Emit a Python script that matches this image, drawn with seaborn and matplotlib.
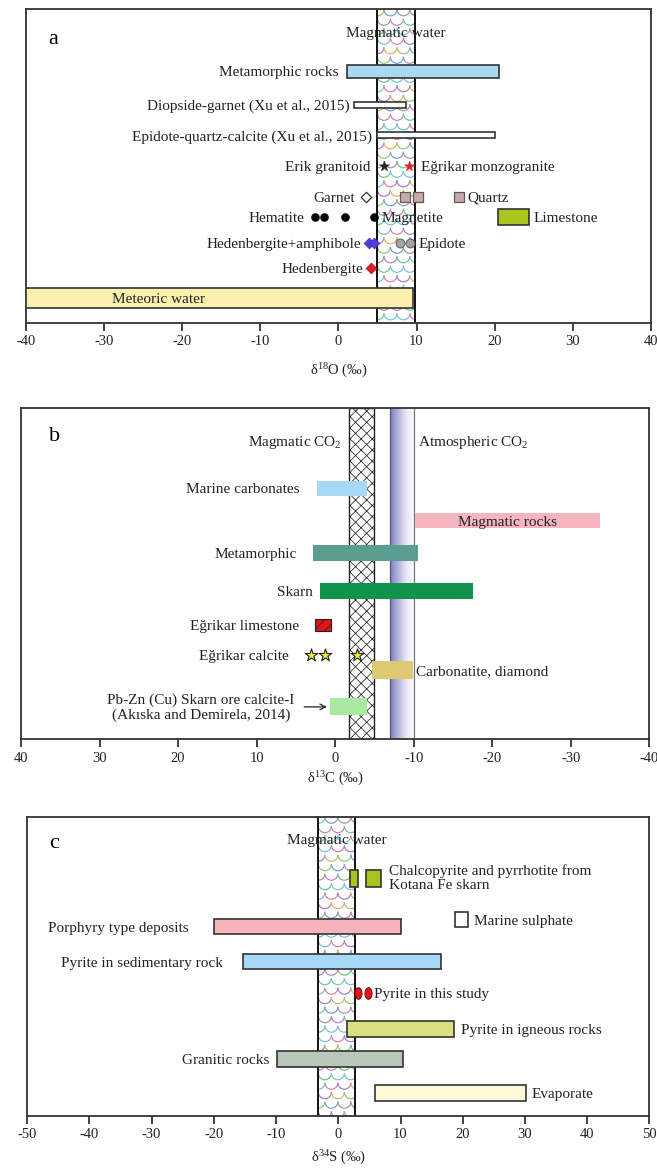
import numpy as np
import matplotlib
matplotlib.use("Agg")
import matplotlib.pyplot as plt
import seaborn as sns
from matplotlib.patches import Rectangle, Arc
from matplotlib.path import Path
from matplotlib.colors import LinearSegmentedColormap

# ======================= DATA =======================
# ---- panel a : delta 18O (permil) ----
a_ticks = [-40, -30, -20, -10, 0, 10, 20, 30, 40]
a_magmatic_band = [5.0, 9.8]
a_bar_names = ["Metamorphic rocks", "Diopside-garnet (Xu et al., 2015)",
               "Epidote-quartz-calcite (Xu et al., 2015)", "Limestone", "Meteoric water"]
a_bar_start = [1.1, 2.0, 4.9, 20.4, -40.0]
a_bar_end = [20.5, 8.6, 20.1, 24.4, 9.5]
a_erik_granitoid = [5.8]
a_egrikar_monzogranite = [9.1]
a_garnet = [3.5]
a_quartz = [8.5, 10.2, 15.4]
a_hematite = [-3.0, -1.8, 0.9]
a_magnetite = [4.6]
a_hedenbergite_amphibole = [3.9, 4.6]
a_epidote = [7.9, 9.2]
a_hedenbergite = [4.2]

# ---- panel b : delta 13C (permil) ----
b_ticks = [40, 30, 20, 10, 0, -10, -20, -30, -40]
b_tick_labels = ["40", "30", "20", "10", "0", "-10", "-20", "-30", "-40"]
b_magmatic_co2 = [-1.8, -4.9]
b_atmospheric_co2 = [-7.0, -10.0]
b_bar_names = ["Marine carbonates", "Magmatic rocks", "Metamorphic", "Skarn",
               "Carbonatite, diamond", "Pb-Zn (Cu) Skarn ore calcite-I"]
b_bar_start = [2.3, -10.1, 2.8, 1.9, -4.7, 0.7]
b_bar_end = [-4.1, -33.7, -10.6, -17.6, -9.9, -4.1]
b_egrikar_limestone = [2.6, 0.5]
b_egrikar_calcite = [3.1, 1.3, -2.8]

# ---- panel c : delta 34S (permil) ----
c_ticks = [-50, -40, -30, -20, -10, 0, 10, 20, 30, 40, 50]
c_magmatic_band = [-3.2, 2.7]
c_bar_names = ["Chalcopyrite-1", "Chalcopyrite-2", "Marine sulphate", "Porphyry type deposits",
               "Pyrite in sedimentary rock", "Pyrite in igneous rocks", "Granitic rocks", "Evaporate"]
c_bar_start = [1.9, 4.4, 18.7, -19.9, -15.3, 1.4, -9.9, 5.9]
c_bar_end = [3.2, 6.9, 20.8, 10.1, 16.5, 18.6, 10.4, 30.1]
c_pyrite_this_study = [3.2, 4.7]

# ======================= STYLE / LAYOUT =======================
sns.set_style("white")
plt.rcParams["font.family"] = ["Liberation Serif", "DejaVu Serif"]
plt.rcParams["mathtext.fontset"] = "custom"
plt.rcParams["mathtext.rm"] = "Liberation Serif"
plt.rcParams["mathtext.it"] = "Liberation Serif:italic"
plt.rcParams["hatch.linewidth"] = 0.55

FS = 11
TICKFS = 10.5
TXT = "#222222"
SPINE = "#333333"
W, H = 657, 1172
fig = plt.figure(figsize=(W / 100, H / 100), dpi=100)

# axes rectangles in pixels (left, top, right, bottom)
rect_a = (25.7, 9.3, 651.0, 322.7)
rect_b = (21.0, 408.3, 649.4, 739.0)
rect_c = (27.2, 816.7, 649.4, 1116.0)


def make_ax(r):
    l, t, rr, b = r
    return fig.add_axes([l / W, 1 - b / H, (rr - l) / W, (b - t) / H])


def style_ax(ax, ticks, labels, xlabel, lpad):
    for s in ax.spines.values():
        s.set_visible(True)
        s.set_color(SPINE)
        s.set_linewidth(1.3)
    ax.set_xticks(ticks)
    ax.set_xticklabels(labels)
    ax.set_yticks([])
    ax.tick_params(axis="x", direction="out", length=6, width=1.3, color=SPINE,
                   labelsize=TICKFS, labelcolor=TXT, pad=3, bottom=True)
    ax.set_xlabel(xlabel, fontsize=10.5, color=TXT, labelpad=lpad)


def scale_pattern(ax, x0, x1, ytop, ybot, rect_px, xr, yr, cell=13.0, row=9.5):
    """fish-scale decorative fill inside a band"""
    l, t, rr, b = rect_px
    dxpp = abs(xr[1] - xr[0]) / (rr - l)
    dypp = abs(yr[1] - yr[0]) / (b - t)
    clip = Rectangle((min(x0, x1), ytop), abs(x1 - x0), ybot - ytop,
                     facecolor="white", edgecolor="none", zorder=1)
    ax.add_patch(clip)
    cols = ["#e07aa0", "#6cc27e", "#6f9be0", "#9d7ad0", "#6cc8c8", "#9a9a9a",
            "#e0b060", "#7ab8e0", "#c07ad0", "#8cc870"]
    w = cell * dxpp
    h = cell * dypp
    ny = int((ybot - ytop) / (row * dypp)) + 3
    k = 0
    for j in range(-1, ny):
        cy = ytop + j * row * dypp
        off = (w / 2) if j % 2 else 0.0
        cx = min(x0, x1) - w + off
        while cx < max(x0, x1) + w:
            arc = Arc((cx, cy), w, h, theta1=0, theta2=180,
                      color=cols[k % len(cols)], lw=0.85, zorder=1.5)
            ax.add_patch(arc)
            arc.set_clip_path(clip)
            k += 3
            cx += w
        k += 1
    ax.axvline(x0, color="#111111", lw=1.4, zorder=2)
    ax.axvline(x1, color="#111111", lw=1.4, zorder=2)


def hbar(ax, x0, x1, y, h, fc, ec="#333333", lw=1.2, z=3, **kw):
    ax.barh([y], [x1 - x0], left=[x0], height=h, color=fc, edgecolor=ec,
            linewidth=lw, zorder=z, **kw)


def label(ax, text, x, y, dx, ha, fs=FS, **kw):
    ax.annotate(text, xy=(x, y), xytext=(dx, 0), textcoords="offset points",
                ha=ha, va="center_baseline", fontsize=fs, color=TXT, zorder=6, **kw)


def pts(ax, xs, y, **kw):
    sns.scatterplot(x=xs, y=[y] * len(xs), ax=ax, legend=False, zorder=5, **kw)


# ======================= PANEL A =======================
axa = make_ax(rect_a)
xa, ya = (-40, 40), (10.45, 0)
axa.set_xlim(*xa)
axa.set_ylim(*ya)
scale_pattern(axa, a_magmatic_band[0], a_magmatic_band[1], 0, ya[0], rect_a, xa, ya)
rows_a = [2.07, 3.19, 4.2, 6.92, 9.63]
heights_a = [0.44, 0.22, 0.2, 0.52, 0.67]
colors_a = ["#a7d9f2", "white", "white", "#a9c61e", "#fbf1ae"]
for s, e, r, hh, c in zip(a_bar_start, a_bar_end, rows_a, heights_a, colors_a):
    hbar(axa, s, e, r, hh, c)
label(axa, "Magmatic water", sum(a_magmatic_band) / 2, 0.76, 0, "center")
label(axa, a_bar_names[0], a_bar_start[0], rows_a[0], -5.8, "right")
label(axa, a_bar_names[1], a_bar_start[1], rows_a[1], -3, "right")
label(axa, a_bar_names[2], a_bar_start[2], rows_a[2], -3.3, "right")
label(axa, a_bar_names[3], a_bar_end[3], rows_a[3], 3, "left")
label(axa, a_bar_names[4], -29, rows_a[4], 0, "left")

pts(axa, a_erik_granitoid, 5.21, marker="*", color="#222222", s=60, edgecolor="#222222", linewidth=0.3)
pts(axa, a_egrikar_monzogranite, 5.21, marker="*", color="#ee1c24", s=60, edgecolor="#ee1c24", linewidth=0.3)
label(axa, "Erik granitoid", a_erik_granitoid[0], 5.21, -9.5, "right")
label(axa, "Eğrikar monzogranite", a_egrikar_monzogranite[0], 5.21, 8, "left")

pts(axa, a_garnet, 6.25, marker="D", color="white", s=28, edgecolor="#333333", linewidth=0.9)
label(axa, "Garnet", a_garnet[0], 6.25, -8, "right")
pts(axa, a_quartz, 6.25, marker="s", color="#c4aaaa", s=55, edgecolor="#6a5555", linewidth=0.9)
label(axa, "Quartz", a_quartz[-1], 6.25, 6.5, "left")

pts(axa, a_hematite, 6.93, marker="o", color="black", s=34, edgecolor="black", linewidth=0.3)
pts(axa, a_magnetite, 6.93, marker="o", color="black", s=34, edgecolor="black", linewidth=0.3)
label(axa, "Hematite", a_hematite[0], 6.93, -7.2, "right")
label(axa, "Magnetite", a_magnetite[0], 6.93, 5.3, "left")

pts(axa, a_hedenbergite_amphibole, 7.78, marker="D", color="#4b3fe0", s=30, edgecolor="#3a2fb0", linewidth=0.5)
label(axa, "Hedenbergite+amphibole", a_hedenbergite_amphibole[0], 7.78, -5.8, "right")
pts(axa, a_epidote, 7.78, marker="o", color="#a8a4a4", s=40, edgecolor="#666666", linewidth=0.8)
label(axa, "Epidote", a_epidote[-1], 7.78, 5.8, "left")

pts(axa, a_hedenbergite, 8.61, marker="D", color="#e01b22", s=30, edgecolor="#a01010", linewidth=0.5)
label(axa, "Hedenbergite", a_hedenbergite[0], 8.61, -5.8, "right")

axa.text(0.036, 0.905, "a", transform=axa.transAxes, fontsize=16, color="black",
         va="center", ha="left")
style_ax(axa, a_ticks, [str(t) for t in a_ticks], r"δ$^{\mathrm{18}}$O (‰)", 10)

# ======================= PANEL B =======================
axb = make_ax(rect_b)
xb, yb = (40, -40), (11.02, 0)
axb.set_xlim(*xb)
axb.set_ylim(*yb)
# magmatic CO2 hatched band
axb.add_patch(Rectangle((b_magmatic_co2[1], 0), b_magmatic_co2[0] - b_magmatic_co2[1], yb[0],
                        facecolor="white", edgecolor="#222222", hatch="xxx", lw=1.0, zorder=1))
# atmospheric CO2 gradient band
grad_cmap = LinearSegmentedColormap.from_list("atm", ["#7c7cbf", "#b4b4de", "#e6e6f4", "#fbfbfe"])
axb.imshow(np.linspace(0, 1, 200).reshape(1, -1), extent=[b_atmospheric_co2[0], b_atmospheric_co2[1], yb[0], 0],
           cmap=grad_cmap, aspect="auto", zorder=1)
axb.axvline(b_atmospheric_co2[0], color="#55557a", lw=0.9, zorder=2)
axb.axvline(b_atmospheric_co2[1], color="#777777", lw=0.9, zorder=2)
axb.set_xlim(*xb)
axb.set_ylim(*yb)

rows_b = [2.67, 3.74, 4.83, 6.09, 8.72, 9.95]
heights_b = [0.52, 0.52, 0.55, 0.55, 0.62, 0.56]
colors_b = ["#a6d9f3", "#f5b5be", "#5a9e92", "#10934a", "#dcca72", "#a8e8a0"]
for s, e, r, hh, c in zip(b_bar_start, b_bar_end, rows_b, heights_b, colors_b):
    hbar(axb, s, e, r, hh, c, ec="none", lw=0)

label(axb, "Magmatic CO$_{2}$", b_magmatic_co2[0], 1.06, -5.5, "right")
label(axb, "Atmospheric CO$_{2}$", b_atmospheric_co2[1], 1.06, 3, "left")
label(axb, b_bar_names[0], b_bar_start[0], rows_b[0], -13, "right")
label(axb, b_bar_names[1], (b_bar_start[1] + b_bar_end[1]) / 2, rows_b[1], 0, "center")
label(axb, b_bar_names[2], b_bar_start[2], rows_b[2], -11.5, "right")
label(axb, b_bar_names[3], b_bar_start[3], rows_b[3], -5, "right")
label(axb, b_bar_names[4], b_bar_end[4], rows_b[4], 2, "left")
axb.text(17.1, 9.99, "Pb-Zn (Cu) Skarn ore calcite-I\n(Akıska and Demirela, 2014)", ha="center",
         va="center", fontsize=FS, color=TXT, linespacing=1.15, zorder=6)
axb.annotate("", xy=(b_bar_start[5], rows_b[5]), xytext=(4.3, rows_b[5]),
             arrowprops=dict(arrowstyle="->", color="#222222", lw=0.9), zorder=6)

# Egrikar limestone (hatched red box)
hbar(axb, b_egrikar_limestone[0], b_egrikar_limestone[1], 7.21, 0.41, "#e3141c", ec="#222222",
     lw=0.8, hatch="///")
label(axb, "Eğrikar limestone", b_egrikar_limestone[0], 7.21, -11, "right")
pts(axb, b_egrikar_calcite, 8.22, marker="*", color="#f3ea3c", s=90, edgecolor="#222222", linewidth=0.8)
label(axb, "Eğrikar calcite", b_egrikar_calcite[0], 8.22, -16, "right")

axb.text(0.045, 0.914, "b", transform=axb.transAxes, fontsize=16, color="black",
         va="center", ha="left")
style_ax(axb, b_ticks, b_tick_labels, r"δ$^{\mathrm{13}}$C (‰)", 4)

# ======================= PANEL C =======================
axc = make_ax(rect_c)
xc, yc = (-50, 50), (9.98, 0)
axc.set_xlim(*xc)
axc.set_ylim(*yc)
scale_pattern(axc, c_magmatic_band[0], c_magmatic_band[1], 0, yc[0], rect_c, xc, yc)
rows_c = [2.05, 2.05, 3.43, 3.67, 4.83, 7.07, 8.08, 9.22]
heights_c = [0.56, 0.56, 0.52, 0.51, 0.52, 0.53, 0.55, 0.55]
colors_c = ["#a9c41f", "#a9c41f", "white", "#f5b3bc", "#a7d8f8", "#dbe07f", "#b8c7b8", "#fff8d6"]
for s, e, r, hh, c in zip(c_bar_start, c_bar_end, rows_c, heights_c, colors_c):
    hbar(axc, s, e, r, hh, c)

label(axc, "Magmatic water", sum(c_magmatic_band) / 2, 0.75, 0, "center")
axc.annotate("Chalcopyrite and pyrrhotite from\nKotana Fe skarn", xy=(c_bar_end[1], rows_c[1]),
             xytext=(5.5, 0), textcoords="offset points", ha="left", va="center",
             fontsize=FS, color=TXT, linespacing=1.1, zorder=6)
label(axc, c_bar_names[2], c_bar_end[2], rows_c[2], 4.8, "left")
label(axc, c_bar_names[3], c_bar_start[3], rows_c[3], -18.7, "right")
label(axc, c_bar_names[4], c_bar_start[4], rows_c[4], -14.5, "right")
label(axc, c_bar_names[5], c_bar_end[5], rows_c[5], 5, "left")
label(axc, c_bar_names[6], c_bar_start[6], rows_c[6], -5, "right")
label(axc, c_bar_names[7], c_bar_end[7], rows_c[7], 4, "left")

t = np.linspace(0, 2 * np.pi, 40)
ellipse = Path(np.column_stack([0.62 * np.cos(t), np.sin(t)]), closed=True)
pts(axc, c_pyrite_this_study, 5.89, marker=ellipse, color="#e2141c", s=70, edgecolor="#5a0a0a", linewidth=0.6)
label(axc, "Pyrite in this study", c_pyrite_this_study[-1], 5.89, 5, "left")

axc.text(0.036, 0.911, "c", transform=axc.transAxes, fontsize=16, color="black",
         va="center", ha="left")
style_ax(axc, c_ticks, [str(v) for v in c_ticks], r"δ$^{\mathrm{34}}$S (‰)", 5)

fig.savefig("out.png", dpi=100)
